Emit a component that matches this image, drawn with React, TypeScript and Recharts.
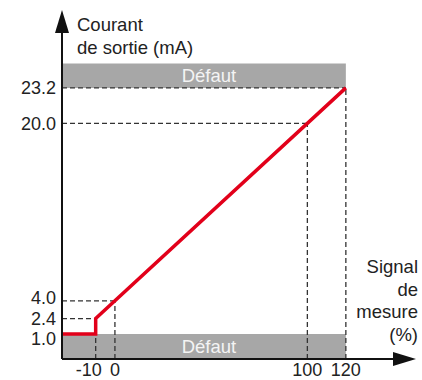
import { ComposedChart, Line, XAxis, YAxis, ReferenceArea, ReferenceLine } from 'recharts'

// measured signal (%) on x, output current (mA) on y
const signalTicks = [-10, 0, 100, 120]
const currentTicks = [1.0, 2.4, 4.0, 20.0, 23.2]
const signalDomain = [-27.5, 144.5]
const currentDomain = [-1.25, 28.15]

// transfer curve: 1.0 mA below -10 %, then 2.4 → 23.2 mA linear
const curveSignal = [-27.5, -10, -10, 120]
const curveCurrent = [1.0, 1.0, 2.4, 23.2]

// fault bands
const faultSignalEnd = 120
const faultLow = [-1.25, 1.0]
const faultHigh = [23.2, 25.4]

// dashed guides to the axes: [signal, current]
const guideSignal = [-10, 0, 100, 120]
const guideCurrent = [2.4, 4.0, 20.0, 23.2]

const data = curveSignal.map((s, i) => ({ signal: s, current: curveCurrent[i] }))

const FONT = 18
const INK = '#222'
const GUIDE = '#333'

// small nudges so crowded tick labels don't collide
const xNudge: Record<string, number> = { '-10': -7 }
const yNudge: Record<string, number> = { '1': 5, '4': -3 }

const XTick = ({ x, y, payload }: any) => (
  <text x={x + (xNudge[String(payload.value)] || 0)} y={y} dy="0.71em" textAnchor="middle" fill={INK} fontSize={FONT}>
    {payload.value}
  </text>
)

const YTick = ({ x, y, payload }: any) => (
  <text x={x} y={y + (yNudge[String(payload.value)] || 0)} dy="0.355em" textAnchor="end" fill={INK} fontSize={FONT}>
    {Number(payload.value).toFixed(1)}
  </text>
)

const yTitle = (props: any) => {
  const vb = props.viewBox || { x: 0, y: 33, width: 62 }
  const x = vb.x + vb.width + 15
  return (
    <text fill={INK} fontSize={FONT + 0.5} textAnchor="start">
      <tspan x={x} y={vb.y - 2.5}>Courant</tspan>
      <tspan x={x} y={vb.y + 21}>de sortie (mA)</tspan>
    </text>
  )
}

const xTitle = (props: any) => {
  const vb = props.viewBox || { x: 62, y: 359, width: 331 }
  const x = vb.x + vb.width + 25
  const lines = ['Signal', 'de', 'mesure', '(%)']
  return (
    <text fill={INK} fontSize={FONT + 0.5} textAnchor="end">
      {lines.map((l, i) => (
        <tspan key={l} x={x} y={vb.y - 86 + i * 22.7}>{l}</tspan>
      ))}
    </text>
  )
}

export default function App() {
  const xMin = signalDomain[0]
  const yMin = currentDomain[0]
  const bandLabel = { value: 'Défaut', position: 'center' as const, fill: '#f4f4f4', fontSize: FONT + 0.5, dx: 5 }
  return (
    <div style={{ position: 'absolute', left: 0, top: 0, fontFamily: '"Liberation Sans", Arial, sans-serif' }}>
      <ComposedChart width={422} height={380} data={data} margin={{ top: 33, right: 29, bottom: 0, left: 0 }}>
        <defs>
          <marker id="arrowHead" viewBox="0 0 23 14" refX="0" refY="7" markerWidth="23" markerHeight="14"
            markerUnits="userSpaceOnUse" orient="auto-start-reverse">
            <path d="M0,0 L23,7 L0,14 z" fill="#111" />
          </marker>
        </defs>
        <XAxis
          dataKey="signal" type="number" domain={signalDomain} allowDataOverflow
          ticks={signalTicks} interval={0} height={21}
          tickLine={false} tickSize={6} tickMargin={-2}
          tick={<XTick />}
          axisLine={{ stroke: '#111', strokeWidth: 2, markerEnd: 'url(#arrowHead)' }}
          label={{ content: xTitle }}
        />
        <YAxis
          type="number" domain={currentDomain} allowDataOverflow
          ticks={currentTicks} interval={0} width={62}
          tickLine={false} tickSize={6} tickMargin={0}
          tick={<YTick />}
          axisLine={{ stroke: '#111', strokeWidth: 2, markerStart: 'url(#arrowHead)' }}
          label={{ content: yTitle }}
        />
        <ReferenceArea x1={xMin} x2={faultSignalEnd} y1={faultHigh[0]} y2={faultHigh[1]}
          fill="#a7a7a7" fillOpacity={1} stroke="none" label={bandLabel} />
        <ReferenceArea x1={xMin} x2={faultSignalEnd} y1={faultLow[0]} y2={faultLow[1]}
          fill="#a7a7a7" fillOpacity={1} stroke="none" label={bandLabel} />
        {guideSignal.map((s, i) => (
          <ReferenceLine key={'h' + s} segment={[{ x: xMin, y: guideCurrent[i] }, { x: s, y: guideCurrent[i] }]}
            stroke={GUIDE} strokeWidth={1.3} strokeDasharray="5 3" />
        ))}
        {guideSignal.map((s, i) => (
          <ReferenceLine key={'v' + s} segment={[{ x: s, y: yMin }, { x: s, y: guideCurrent[i] }]}
            stroke={GUIDE} strokeWidth={1.3} strokeDasharray="5 3" />
        ))}
        <Line dataKey="current" type="linear" stroke="#e2001a" strokeWidth={3.5} dot={false}
          activeDot={false} isAnimationActive={false} />
      </ComposedChart>
    </div>
  )
}
